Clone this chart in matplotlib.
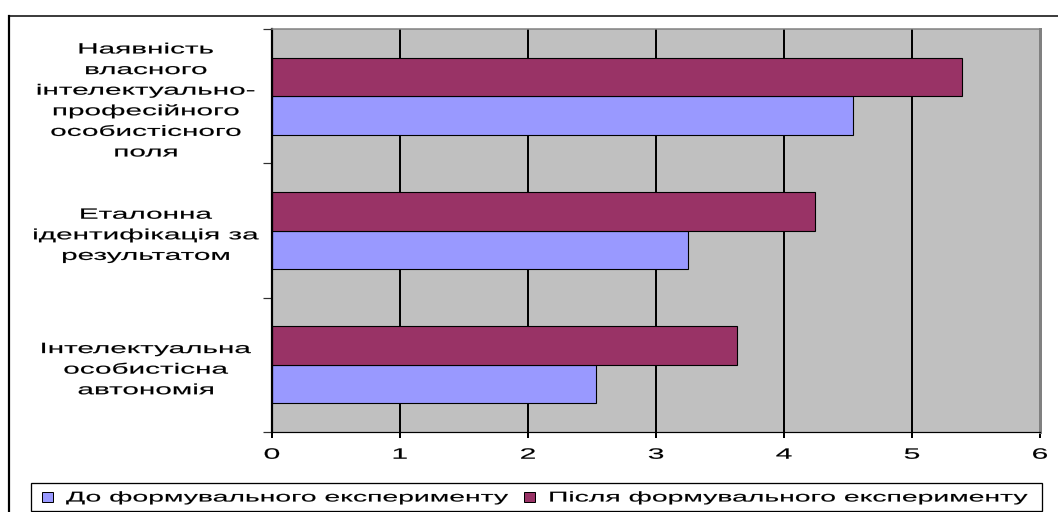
import matplotlib
matplotlib.use("Agg")
import matplotlib.pyplot as plt
import numpy as np
from matplotlib.patches import Rectangle
from matplotlib.lines import Line2D
from matplotlib.patheffects import AbstractPathEffect
from matplotlib.transforms import Affine2D

plt.rcParams['font.family'] = ['Liberation Sans', 'DejaVu Sans']

# ---- data -------------------------------------------------------------
categories = [
    "Інтелектуальна\nособистісна\nавтономія",
    "Еталонна\nідентифікація за\nрезультатом",
    "Наявність\nвласного\nінтелектуально-\nпрофесійного\nособистісного\nполя",
]
series_names = ["До формувального експерименту", "Після формувального експерименту"]
before_values = [2.53, 3.25, 4.54]
after_values = [3.63, 4.24, 5.39]
x_ticks = [0, 1, 2, 3, 4, 5, 6]
colors = ["#9999FF", "#993366"]

W, H = 1058, 512
DPI = 100
PX = 72.0 / DPI  # points per pixel


class WideGlyphs(AbstractPathEffect):
    """Draws text glyphs widened horizontally about a chosen anchor."""

    def __init__(self, factor=2.0, anchor="center", stroke=0.12):
        super().__init__()
        self.factor = factor
        self.anchor = anchor
        self.stroke = stroke

    def draw_path(self, renderer, gc, tpath, affine, rgbFace=None):
        if self.anchor == "left":
            x0 = affine.get_matrix()[0, 2]
        else:
            ext = tpath.get_extents(affine)
            x0 = 0.5 * (ext.x0 + ext.x1) if self.anchor == "center" else ext.x1
        widen = Affine2D().translate(-x0, 0).scale(self.factor, 1.0).translate(x0, 0)
        gc0 = renderer.new_gc()
        gc0.copy_properties(gc)
        gc0.set_linewidth(self.stroke)
        if rgbFace is not None:
            gc0.set_foreground(rgbFace)
        renderer.draw_path(gc0, tpath, affine + widen, rgbFace)
        gc0.restore()


def fx(px):
    return px / W


def fy(py):
    return 1.0 - py / H


fig = plt.figure(figsize=(W / DPI, H / DPI), dpi=DPI)
fig.patch.set_facecolor("white")

# plot area
left, right, top, bottom = 272, 1040, 29, 432
ax = fig.add_axes([fx(left), fy(bottom), (right - left) / W, (bottom - top) / H])
ax.set_facecolor("#C0C0C0")

y = np.arange(len(categories))
h = 1.0 / 3.5
ax.barh(y - h / 2, before_values, height=h, color=colors[0], edgecolor="black",
        linewidth=0.8, zorder=2)
ax.barh(y + h / 2, after_values, height=h, color=colors[1], edgecolor="black",
        linewidth=0.8, zorder=2)

ax.set_xlim(0, 6)
ax.set_ylim(-0.5, len(categories) - 0.5)

ax.set_axisbelow(True)
ax.grid(axis="x", color="black", linewidth=2 * PX)
ax.grid(axis="y", visible=False)

ax.set_xticks(x_ticks)
ax.set_xticklabels([str(t) for t in x_ticks], fontsize=10.8)
ax.tick_params(axis="x", direction="out", length=6 * PX, width=2 * PX,
               color="black", pad=7)

ax.set_yticks(y)
ax.set_yticklabels(categories, fontsize=10.7, ha="center",
                   multialignment="center", linespacing=1.6)
ax.tick_params(axis="y", which="major", length=0, pad=126 * PX)
ax.set_yticks(np.arange(len(categories) + 1) - 0.5, minor=True)
ax.tick_params(axis="y", which="minor", direction="out", length=9 * PX,
               width=1.2 * PX, color="#303030")

for lbl in ax.get_yticklabels():
    lbl.set_path_effects([WideGlyphs(2.0, "center")])
for lbl in ax.get_xticklabels():
    lbl.set_path_effects([WideGlyphs(2.0, "center")])

ax.spines["left"].set_color("black")
ax.spines["left"].set_linewidth(2.2 * PX)
ax.spines["bottom"].set_color("black")
ax.spines["bottom"].set_linewidth(1.2 * PX)
ax.spines["top"].set_color("#808080")
ax.spines["top"].set_linewidth(1.5 * PX)
ax.spines["right"].set_color("#808080")
ax.spines["right"].set_linewidth(3 * PX)

# outer chart frame (continues past the right and bottom edges)
fig.add_artist(Line2D([fx(9), fx(9)], [fy(16), fy(H + 10)], transform=fig.transFigure,
                      color="black", linewidth=2.2 * PX))
fig.add_artist(Line2D([fx(9), fx(W + 10)], [fy(16), fy(16)], transform=fig.transFigure,
                      color="black", linewidth=1.5 * PX))

# legend
lg_l, lg_r, lg_t, lg_b = 31, 1042, 483, 511
fig.add_artist(Rectangle((fx(lg_l), fy(lg_b)), (lg_r - lg_l) / W, (lg_b - lg_t) / H,
                         transform=fig.transFigure, facecolor="white",
                         edgecolor="black", linewidth=1.3 * PX))
lg_cy = 0.5 * (lg_t + lg_b)
entry_x = [42, 524]
for ex, name, col in zip(entry_x, series_names, colors):
    fig.add_artist(Rectangle((fx(ex), fy(lg_cy + 5)), 11 / W, 10 / H,
                             transform=fig.transFigure, facecolor=col,
                             edgecolor="black", linewidth=1.0 * PX))
    t = fig.text(fx(ex + 24), fy(lg_cy + 0.5), name, fontsize=10.2, ha="left", va="center")
    t.set_path_effects([WideGlyphs(2.0, "left")])

fig.savefig("out.png", dpi=DPI, facecolor="white")
